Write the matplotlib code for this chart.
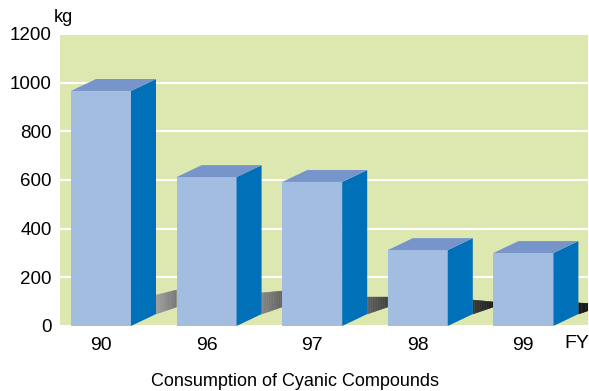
import matplotlib
matplotlib.use("Agg")
import matplotlib.pyplot as plt
from matplotlib.patches import Polygon
import numpy as np

plt.rcParams['font.family'] = ['Liberation Sans', 'DejaVu Sans']

years = ["90", "96", "97", "98", "99"]
usage_kg = [966, 612, 592, 312, 300]

# floor shadow behind each bar: top height at left / right end (kg)
shadow_top_left = [127, 136, 119, 107, 95]
shadow_top_right = [148, 144, 119, 99, 90]
shadow_light = [0.62, 0.52, 0.38, 0.22, 0.10]
shadow_dark = [0.46, 0.38, 0.24, 0.10, 0.06]

front_col = "#a3bde0"
side_col = "#0070b8"
top_col = "#7895cb"
bg_col = "#dde8b0"

fig = plt.figure(figsize=(5.89, 3.91), dpi=100)
ax = fig.add_axes([60 / 589, 65 / 391, 528 / 589, 292 / 391])
ax.set_facecolor(bg_col)

w = 0.568
dx = 0.237
dy = 49
x = np.arange(len(years))

ax.set_xlim(-0.388, 4.612)
ax.set_ylim(0, 1200)

# shadows (gradient made of thin vertical strips)
for i in range(len(years)):
    x_start = x[i] + w / 2 + dx
    x_end = x[i] + 1 - w / 2 if i < len(years) - 1 else 4.612
    n = 12
    xs = np.linspace(x_start, x_end, n + 1)
    full_end = x[i] + 1 - w / 2
    for k in range(n):
        a, b = xs[k], xs[k + 1]
        fa = (a - x_start) / (full_end - x_start)
        fb = (b - x_start) / (full_end - x_start)
        bot_a = dy + fa * (78 - dy)
        bot_b = dy + fb * (78 - dy)
        top_a = shadow_top_left[i] + fa * (shadow_top_right[i] - shadow_top_left[i])
        top_b = shadow_top_left[i] + fb * (shadow_top_right[i] - shadow_top_left[i])
        g = shadow_light[i] + (k / n) * (shadow_dark[i] - shadow_light[i])
        ax.add_patch(Polygon([(a, bot_a), (b, bot_b), (b, top_b), (a, top_a)],
                             closed=True, facecolor=(g, g, g), edgecolor=(g, g, g),
                             linewidth=0.3, zorder=2))

for i, h in enumerate(usage_kg):
    x0 = x[i] - w / 2
    x1 = x[i] + w / 2
    ax.add_patch(Polygon([(x0, 0), (x1, 0), (x1, h), (x0, h)],
                         facecolor=front_col, edgecolor="none", zorder=4))
    ax.add_patch(Polygon([(x1, 0), (x1 + dx, dy), (x1 + dx, h + dy), (x1, h)],
                         facecolor=side_col, edgecolor="none", zorder=4))
    ax.add_patch(Polygon([(x0, h), (x1, h), (x1 + dx, h + dy), (x0 + dx, h + dy)],
                         facecolor=top_col, edgecolor="none", zorder=4))

ax.set_yticks(range(0, 1201, 200))
ax.yaxis.grid(True, color="white", linewidth=1.5, zorder=1)
ax.set_axisbelow(True)
ax.set_xticks(x)
ax.set_xticklabels(years)
ax.tick_params(axis="both", length=0)
ax.tick_params(axis="x", pad=8, labelsize=14)
ax.tick_params(axis="y", pad=6, labelsize=13.5)
for s in ax.spines.values():
    s.set_visible(False)

fig.text(54 / 589, 1 - 18 / 391, "kg", fontsize=13, va="center", ha="left")
fig.text(577 / 589, 1 - 343 / 391, "FY", fontsize=14, va="center", ha="center")
fig.text(295 / 589, 1 - 381 / 391, "Consumption of Cyanic Compounds",
         fontsize=13, va="center", ha="center")

fig.savefig("out.png", dpi=100)
